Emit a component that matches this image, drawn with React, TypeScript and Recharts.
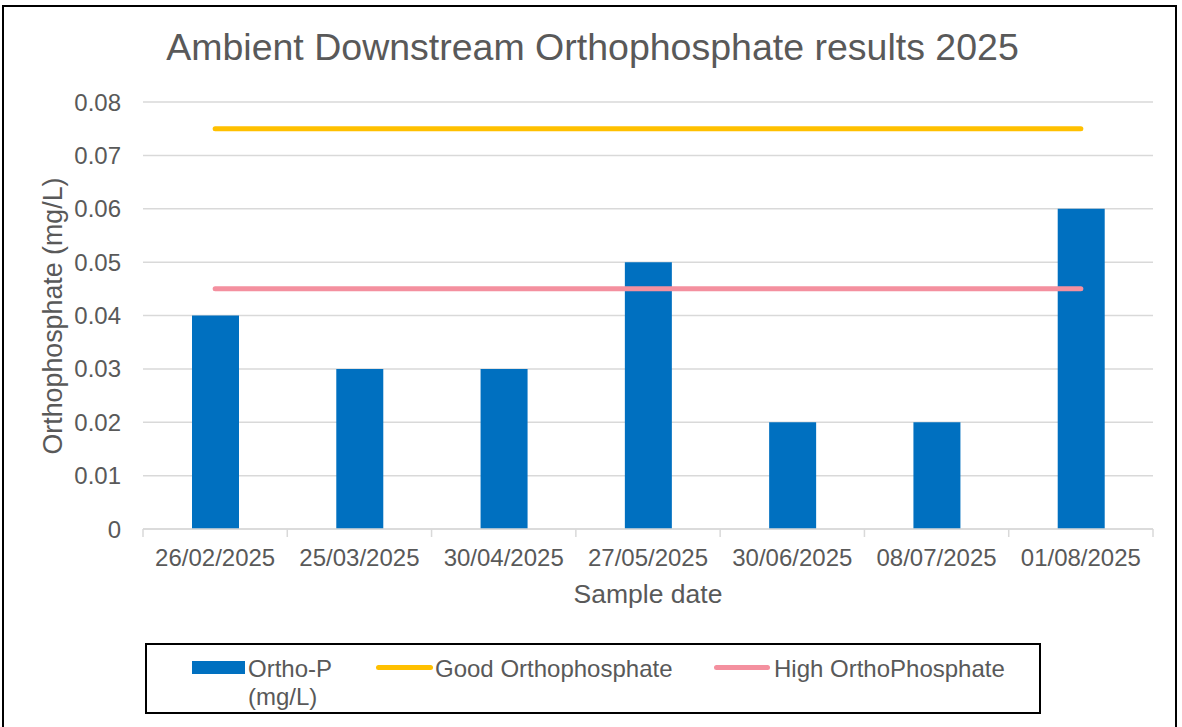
import { ComposedChart, Bar, Line, XAxis, YAxis, CartesianGrid } from "recharts";

const dates = [
  "26/02/2025",
  "25/03/2025",
  "30/04/2025",
  "27/05/2025",
  "30/06/2025",
  "08/07/2025",
  "01/08/2025",
];
const orthoP = [0.04, 0.03, 0.03, 0.05, 0.02, 0.02, 0.06];
const goodLimit = [0.075, 0.075, 0.075, 0.075, 0.075, 0.075, 0.075];
const highLimit = [0.045, 0.045, 0.045, 0.045, 0.045, 0.045, 0.045];
const yTicks = [0, 0.01, 0.02, 0.03, 0.04, 0.05, 0.06, 0.07, 0.08];

const data = dates.map((d, i) => ({
  date: d,
  ortho: orthoP[i],
  good: goodLimit[i],
  high: highLimit[i],
}));

const W = 1182;
const H = 727;
const margin = { top: 102, right: 29, bottom: 118, left: 43 };
const plotW = W - margin.left - margin.right - 100; // minus y axis width
const band = plotW / dates.length;

const FONT = "'Liberation Sans', Arial, sans-serif";
const GREY = "#595959";
const BLUE = "#0070C0";
const ORANGE = "#FFC000";
const PINK = "#F4909F";

// excel style ticks sit between categories, not under them
function DateTick(props: any) {
  const { x, y, payload, index } = props;
  return (
    <g>
      <line x1={x - band / 2} x2={x - band / 2} y1={y} y2={y + 8} stroke="#d9d9d9" strokeWidth={1.5} />
      {index === dates.length - 1 && (
        <line x1={x + band / 2} x2={x + band / 2} y1={y} y2={y + 8} stroke="#d9d9d9" strokeWidth={1.5} />
      )}
      <text x={x} y={y + 37} textAnchor="middle" fill={GREY} fontSize={24} fontFamily={FONT}>
        {payload.value}
      </text>
    </g>
  );
}

function LegendBox() {
  const item = { display: "flex", alignItems: "flex-start", position: "absolute" as const, top: 10 };
  return (
    <div
      style={{
        position: "absolute",
        left: 145,
        top: 643,
        width: 892,
        height: 67,
        border: "2px solid #000",
        fontFamily: FONT,
        fontSize: 24,
        color: GREY,
        lineHeight: "28px",
      }}
    >
      <div style={{ ...item, left: 45 }}>
        <span style={{ width: 53, height: 13, background: BLUE, marginTop: 6, marginRight: 3 }} />
        <span style={{ width: 100 }}>Ortho-P (mg/L)</span>
      </div>
      <div style={{ ...item, left: 229 }}>
        <span style={{ width: 57, height: 5, borderRadius: 3, background: ORANGE, marginTop: 10, marginRight: 2 }} />
        <span>Good Orthophosphate</span>
      </div>
      <div style={{ ...item, left: 567 }}>
        <span style={{ width: 56, height: 5, borderRadius: 3, background: PINK, marginTop: 10, marginRight: 4 }} />
        <span>High OrthoPhosphate</span>
      </div>
    </div>
  );
}

export default function App() {
  return (
    <div style={{ position: "absolute", left: 0, top: 0, width: W, height: H, overflow: "hidden", background: "#fff" }}>
      <div
        style={{
          position: "absolute",
          left: 2,
          top: 5,
          width: 1171,
          height: 740,
          border: "2px solid #000",
        }}
      />
      <div
        style={{
          position: "absolute",
          left: 0,
          width: 1185,
          top: 27,
          textAlign: "center",
          fontFamily: FONT,
          fontSize: 37.5,
          color: GREY,
          lineHeight: "40px",
        }}
      >
        Ambient Downstream Orthophosphate results 2025
      </div>
      <ComposedChart width={W} height={H} data={data} margin={margin} style={{ position: "absolute", left: 0, top: 0 }}>
        <CartesianGrid vertical={false} stroke="#d9d9d9" strokeWidth={1.5} />
        <XAxis
          dataKey="date"
          tickLine={false}
          tickSize={0}
          tickMargin={0}
          interval={0}
          height={80}
          axisLine={{ stroke: "#d9d9d9", strokeWidth: 1.5 }}
          tick={<DateTick />}
          label={{
            content: () => (
              <text x={648} y={603} textAnchor="middle" fill={GREY} fontSize={26.5} fontFamily={FONT}>
                Sample date
              </text>
            ),
          }}
        />
        <YAxis
          width={100}
          domain={[0, 0.08]}
          ticks={yTicks}
          tickFormatter={(v: number) => String(v)}
          tickLine={false}
          axisLine={false}
          tickSize={0}
          tickMargin={22}
          tick={{ fill: GREY, fontSize: 24, fontFamily: FONT }}
          label={{
            content: () => (
              <text
                x={62}
                y={316}
                textAnchor="middle"
                transform="rotate(-90 62 316)"
                fill={GREY}
                fontSize={26.8}
                fontFamily={FONT}
              >
                Orthophosphate (mg/L)
              </text>
            ),
          }}
        />
        <Bar dataKey="ortho" fill={BLUE} barSize={47} isAnimationActive={false} />
        <Line dataKey="good" stroke={ORANGE} strokeWidth={5} strokeLinecap="round" dot={false} isAnimationActive={false} />
        <Line dataKey="high" stroke={PINK} strokeWidth={5} strokeLinecap="round" dot={false} isAnimationActive={false} />
      </ComposedChart>
      <LegendBox />
    </div>
  );
}
